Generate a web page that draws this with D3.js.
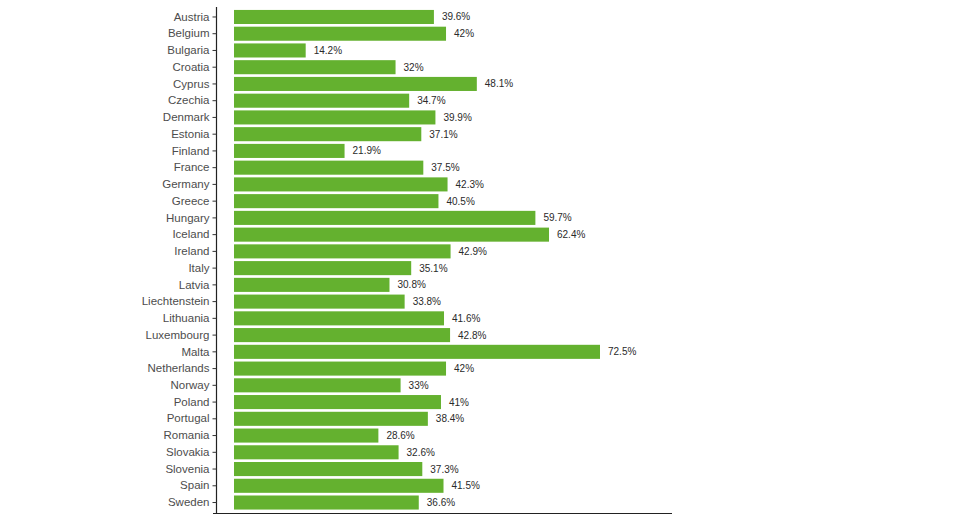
<!DOCTYPE html>
<html><head><meta charset="utf-8">
<script src="https://cdn.jsdelivr.net/npm/d3@7"></script>
<style>body{margin:0;background:#fff}svg{display:block}</style>
</head><body>
<svg id="c" width="980" height="520"></svg>
<script>
const countries = ["Austria","Belgium","Bulgaria","Croatia","Cyprus","Czechia","Denmark","Estonia","Finland","France","Germany","Greece","Hungary","Iceland","Ireland","Italy","Latvia","Liechtenstein","Lithuania","Luxembourg","Malta","Netherlands","Norway","Poland","Portugal","Romania","Slovakia","Slovenia","Spain","Sweden"];
const values = [39.6,42,14.2,32,48.1,34.7,39.9,37.1,21.9,37.5,42.3,40.5,59.7,62.4,42.9,35.1,30.8,33.8,41.6,42.8,72.5,42,33,41,38.4,28.6,32.6,37.3,41.5,36.6];
const labels = ["39.6%","42%","14.2%","32%","48.1%","34.7%","39.9%","37.1%","21.9%","37.5%","42.3%","40.5%","59.7%","62.4%","42.9%","35.1%","30.8%","33.8%","41.6%","42.8%","72.5%","42%","33%","41%","38.4%","28.6%","32.6%","37.3%","41.5%","36.6%"];

const svg = d3.select("#c");
const axisX = 216.5, axisY = 513.5;
const x = d3.scaleLinear().domain([0, 72.5]).range([234, 600]);
const y = d3.scaleBand().domain(countries).range([8.6, 510.9]).paddingInner(0.16).paddingOuter(0.08);

svg.append("g").selectAll("rect").data(countries).join("rect")
  .attr("x", x(0))
  .attr("y", d => y(d))
  .attr("width", (d,i) => x(values[i]) - x(0))
  .attr("height", y.bandwidth())
  .attr("fill", "#64b12f");

svg.append("g").selectAll("text").data(countries).join("text")
  .attr("x", (d,i) => x(values[i]) + 8)
  .attr("y", d => y(d) + y.bandwidth()/2)
  .attr("dy", "0.35em")
  .attr("font-family", "Liberation Sans, Arial, sans-serif")
  .attr("font-size", 10)
  .attr("fill", "#2a2a2a")
  .text((d,i) => labels[i]);

const yAxis = svg.append("g").attr("transform", `translate(${axisX},0)`)
  .call(d3.axisLeft(y).tickSize(4).tickPadding(3).tickSizeOuter(0));
yAxis.select(".domain").attr("d", "M0,7V513").attr("stroke", "#222").attr("stroke-width", 1.2);
yAxis.selectAll(".tick line").attr("stroke", "#333");
yAxis.selectAll(".tick text").attr("font-family", "Liberation Sans, Arial, sans-serif")
  .attr("font-size", 11.5).attr("fill", "#4d4d4d");

svg.append("line").attr("x1", 213).attr("x2", 672).attr("y1", axisY).attr("y2", axisY)
  .attr("stroke", "#222").attr("stroke-width", 1.2);
</script>
</body></html>
